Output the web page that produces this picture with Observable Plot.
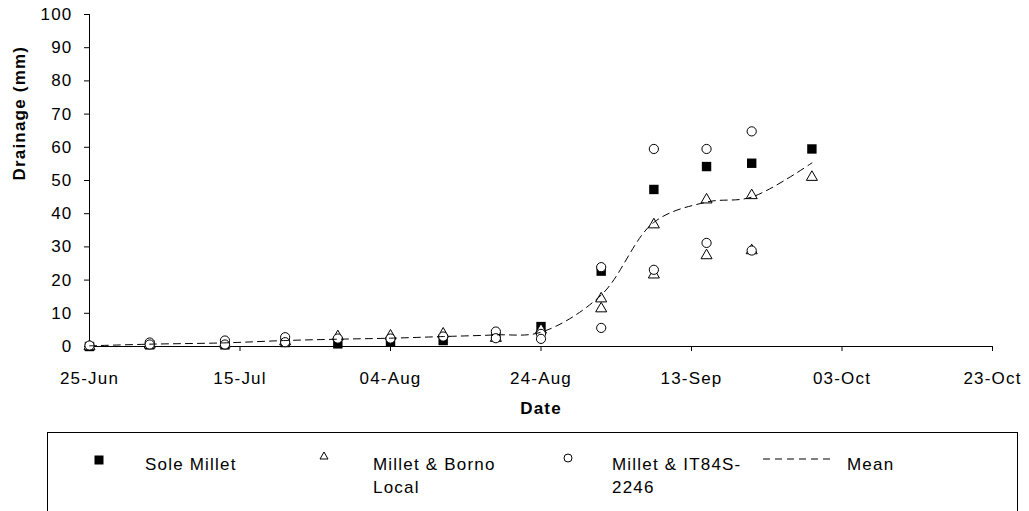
<!DOCTYPE html>
<html>
<head>
<meta charset="utf-8">
<script src="https://cdn.jsdelivr.net/npm/d3@7"></script>
<script src="https://cdn.jsdelivr.net/npm/@observablehq/plot@0.6"></script>
<style>
  html, body { margin: 0; padding: 0; background: #fff; }
  body { width: 1029px; height: 511px; position: relative; overflow: hidden;
         font-family: "Liberation Sans", Arial, sans-serif; }
  #legend { position: absolute; left: 47px; top: 432px; width: 971px; height: 80px;
            border: 1px solid #000; box-sizing: border-box; }
  .lg-item { position: absolute; font-size: 17px; letter-spacing: 1.2px; line-height: 23px; color: #000; }
  .lg-sw { position: absolute; overflow: visible; }
</style>
</head>
<body>
<div id="chart"></div>
<div id="legend"></div>
<script>
// ---- Data ----
const dates = ["2003-06-25","2003-07-03","2003-07-13","2003-07-21","2003-07-28","2003-08-04","2003-08-11",
               "2003-08-18","2003-08-24","2003-09-01","2003-09-08","2003-09-15","2003-09-21","2003-09-29"];
const soleMillet   = [0.0, 0.5, 0.5, 1.2, 0.8, 1.5, 1.8, 3.0, 6.0, 22.7, 47.3, 54.2, 55.2, 59.5];
const bornoLocalA  = [0.0, 0.5, 0.8, 1.5, 3.0, 3.2, 3.8, 2.5, 5.0, 14.4, 36.7, 44.2, 45.5, 51.0];
const bornoLocalB  = [null,null,null,null,null,null,null,null,null, 11.4, 21.6, 27.4, 28.9, null];
const it84sA       = [0.3, 1.2, 1.8, 2.8, 2.4, 2.4, 3.0, 4.5, 3.8, 23.9, 59.5, 59.5, 64.8, null];
const it84sB       = [null, 0.6, 0.6, 1.3, null,null,null, 2.5, 2.3, 5.6, 23.1, 31.2, 28.9, null];
const meanValues   = [0.2, 0.7, 1.1, 1.8, 2.2, 2.5, 3.0, 3.5, 4.3, 15.5, 37.4, 43.5, 45.0, 55.3];

const seriesNames  = ["Sole Millet", "Millet & Borno Local", "Millet & IT84S-2246", "Mean"];
const xTickLabels  = ["2003-06-25","2003-07-15","2003-08-04","2003-08-24","2003-09-13","2003-10-03","2003-10-23"];
const yTickLabels  = [0,10,20,30,40,50,60,70,80,90,100];
const xDomain      = ["2003-06-25","2003-10-23"];
const yDomain      = [0, 100];
const xTitle = "Date";
const yTitle = "Drainage (mm)";

// ---- Build tables ----
const parse = d3.utcParse("%Y-%m-%d");
function rows(values, series) {
  return values.map((v, i) => ({date: parse(dates[i]), value: v, series}))
               .filter(d => d.value != null);
}
const squares   = rows(soleMillet, seriesNames[0]);
const triangles = rows(bornoLocalA, seriesNames[1]).concat(rows(bornoLocalB, seriesNames[1]));
const circles   = rows(it84sA, seriesNames[2]).concat(rows(it84sB, seriesNames[2]));
const meanRows  = rows(meanValues, seriesNames[3]);

const fmt = d3.utcFormat("%d-%b");

const chart = Plot.plot({
  width: 1029,
  height: 430,
  marginLeft: 89,
  marginRight: 37,
  marginTop: 14,
  marginBottom: 84,
  style: "font-family: 'Liberation Sans', Arial, sans-serif; font-size: 17px; letter-spacing: 1.2px; background: #fff; color: #000; overflow: visible;",
  x: {type: "utc", domain: xDomain.map(parse)},
  y: {domain: yDomain},
  marks: [
    Plot.axisX(xTickLabels.map(parse), {tickSize: 5, tickPadding: 20, tickFormat: fmt, label: null, stroke: "#000"}),
    Plot.axisY(yTickLabels, {tickSize: 5, tickPadding: 12, label: null, stroke: "#000"}),
    Plot.ruleY([0], {stroke: "#000", strokeWidth: 1}),
    Plot.ruleX([parse(xDomain[0])], {y1: yDomain[0], y2: yDomain[1], stroke: "#000", strokeWidth: 1}),
    Plot.dot(squares, {x: "date", y: "value", symbol: "square", r: 5.3, fill: "#000", stroke: "none"}),
    Plot.dot(triangles, {x: "date", y: "value", symbol: "triangle", r: 4.1, fill: "#fff", stroke: "#000", strokeWidth: 1}),
    Plot.dot(circles, {x: "date", y: "value", symbol: "circle", r: 4.6, fill: "#fff", stroke: "#000", strokeWidth: 1}),
    Plot.line(meanRows, {x: "date", y: "value", curve: "catmull-rom", stroke: "#000", strokeWidth: 1, strokeDasharray: "7,5"}),
    Plot.text([yTitle], {frameAnchor: "left", dx: -70, rotate: -90, fontWeight: "bold", fontSize: 17}),
    Plot.text([xTitle], {frameAnchor: "bottom", dy: 67, fontWeight: "bold", fontSize: 17})
  ]
});
document.getElementById("chart").appendChild(chart);

// ---- Legend (HTML, below the SVG) ----
const legend = document.getElementById("legend");
const ox = 47, oy = 432;
const items = [
  {name: seriesNames[0], sx: 98,  sy: 459, tx: 145, w: 150, kind: "square"},
  {name: seriesNames[1], sx: 323, sy: 455, tx: 373, w: 140, kind: "triangle"},
  {name: seriesNames[2], sx: 567, sy: 457, tx: 612, w: 140, kind: "circle"},
  {name: seriesNames[3], sx: 797, sy: 458, tx: 847, w: 100, kind: "line"}
];
items.forEach(it => {
  const svgNS = "http://www.w3.org/2000/svg";
  const sw = document.createElementNS(svgNS, "svg");
  sw.setAttribute("class", "lg-sw");
  sw.setAttribute("width", 80); sw.setAttribute("height", 20);
  sw.style.left = (it.sx - ox - 40) + "px";
  sw.style.top = (it.sy - oy - 10) + "px";
  let el;
  if (it.kind === "square") {
    el = document.createElementNS(svgNS, "rect");
    el.setAttribute("x", 35.5); el.setAttribute("y", 5.5); el.setAttribute("width", 9); el.setAttribute("height", 9);
    el.setAttribute("fill", "#000");
  } else if (it.kind === "triangle") {
    el = document.createElementNS(svgNS, "path");
    el.setAttribute("d", "M40,6 L44,13 L36,13 Z");
    el.setAttribute("fill", "#fff"); el.setAttribute("stroke", "#000");
  } else if (it.kind === "circle") {
    el = document.createElementNS(svgNS, "circle");
    el.setAttribute("cx", 40); el.setAttribute("cy", 10); el.setAttribute("r", 4);
    el.setAttribute("fill", "#fff"); el.setAttribute("stroke", "#000");
  } else {
    el = document.createElementNS(svgNS, "line");
    el.setAttribute("x1", 5); el.setAttribute("x2", 75); el.setAttribute("y1", 10); el.setAttribute("y2", 10);
    el.setAttribute("stroke", "#000"); el.setAttribute("stroke-dasharray", "7,5");
  }
  sw.appendChild(el);
  legend.appendChild(sw);
  const t = document.createElement("div");
  t.className = "lg-item";
  t.textContent = it.name;
  t.style.left = (it.tx - ox - 1) + "px";
  t.style.top = (453 - oy - 1) + "px";
  t.style.width = it.w + "px";
  legend.appendChild(t);
});
</script>
</body>
</html>
